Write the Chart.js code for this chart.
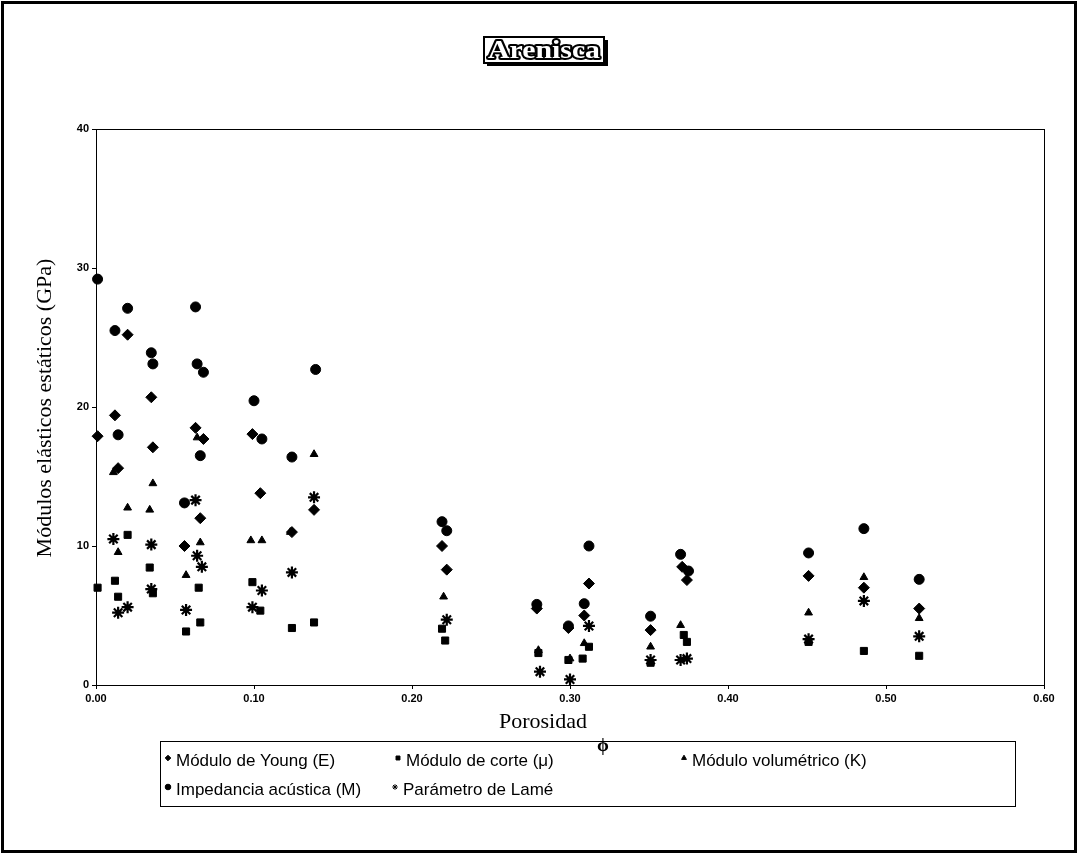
<!DOCTYPE html>
<html>
<head>
<meta charset="utf-8">
<script src="https://cdn.jsdelivr.net/npm/chart.js@4.4.1/dist/chart.umd.min.js"></script>
<style>
html,body{margin:0;padding:0;background:#fff;}
#wrap{width:1078px;height:854px;position:relative;}
</style>
</head>
<body>
<div id="wrap"><canvas id="c" width="1078" height="854"></canvas></div>
<script>
// ---- Data (porosity, GPa) ----
const seriesLabels = ["Módulo de Young (E)", "Módulo de corte (μ)", "Módulo volumétrico (K)", "Impedancia acústica (M)", "Parámetro de Lamé"];
const xTickLabels = ["0.00","0.10","0.20","0.30","0.40","0.50","0.60"];
const yTickLabels = ["0","10","20","30","40"];

const youngE = [[0.001,17.9],[0.012,19.4],[0.014,15.6],[0.020,25.2],[0.035,20.7],[0.036,17.1],[0.056,10.0],[0.063,18.5],[0.068,17.7],[0.066,12.0],[0.099,18.05],[0.104,13.8],[0.124,11.0],[0.138,12.6],[0.219,10.0],[0.222,8.3],[0.279,5.5],[0.299,4.1],[0.312,7.3],[0.309,5.0],[0.351,3.95],[0.371,8.5],[0.374,7.55],[0.451,7.85],[0.486,7.0],[0.521,5.5]];
const shearMu = [[0.001,7.0],[0.012,7.5],[0.014,6.35],[0.020,10.8],[0.034,8.45],[0.036,6.6],[0.057,3.85],[0.065,7.0],[0.066,4.5],[0.099,7.4],[0.104,5.35],[0.124,4.1],[0.138,4.5],[0.219,4.05],[0.221,3.2],[0.280,2.3],[0.299,1.8],[0.312,2.75],[0.308,1.9],[0.351,1.6],[0.372,3.6],[0.374,3.1],[0.451,3.1],[0.486,2.45],[0.521,2.1]];
const bulkK = [[0.011,15.3],[0.014,9.55],[0.020,12.75],[0.034,12.6],[0.036,14.5],[0.057,7.9],[0.064,17.8],[0.066,10.25],[0.098,10.4],[0.105,10.4],[0.123,11.0],[0.138,16.6],[0.220,6.35],[0.280,2.5],[0.300,1.9],[0.309,3.0],[0.351,2.75],[0.370,4.3],[0.451,5.2],[0.486,7.75],[0.521,4.8]];
const impedanceM = [[0.001,29.2],[0.012,25.5],[0.020,27.1],[0.035,23.9],[0.036,23.1],[0.014,18.0],[0.056,13.1],[0.063,27.2],[0.064,23.1],[0.068,22.5],[0.066,16.5],[0.100,20.45],[0.105,17.7],[0.124,16.4],[0.139,22.7],[0.219,11.75],[0.222,11.1],[0.279,5.8],[0.299,4.25],[0.312,10.0],[0.309,5.85],[0.351,4.95],[0.370,9.4],[0.375,8.2],[0.451,9.5],[0.486,11.25],[0.521,7.6]];
const lameLambda = [[0.011,10.5],[0.014,5.2],[0.020,5.6],[0.035,10.1],[0.035,6.9],[0.057,5.4],[0.063,13.3],[0.064,9.3],[0.067,8.5],[0.099,5.6],[0.105,6.8],[0.124,8.1],[0.138,13.5],[0.222,4.7],[0.281,0.96],[0.300,0.4],[0.312,4.25],[0.351,1.8],[0.370,1.8],[0.374,1.9],[0.451,3.3],[0.486,6.05],[0.521,3.5]];

const toPts = arr => arr.map(p => ({x:p[0], y:p[1]}));

const styles = [
  {pointStyle:'rectRot', r:5.5},
  {pointStyle:'rect', r:5},
  {pointStyle:'triangle', r:4.5},
  {pointStyle:'circle', r:5},
  {pointStyle:'star', r:6}
];
const seriesData = [youngE, shearMu, bulkK, impedanceM, lameLambda];

const datasets = seriesData.map((d,i) => ({
  label: seriesLabels[i],
  data: toPts(d),
  pointStyle: styles[i].pointStyle,
  pointRadius: styles[i].r,
  pointHoverRadius: styles[i].r,
  backgroundColor:'#000',
  borderColor:'#000',
  borderWidth: i===4 ? 2.2 : 1,
  showLine:false,
  clip:false
}));

// Legend slot positions (layout only)
const legendSlots = [
  {x:168, y:761}, {x:398, y:761}, {x:684, y:761},
  {x:168, y:790}, {x:395, y:790}
];

const decor = {
  id:'decor',
  afterDraw(chart){
    const ctx = chart.ctx, a = chart.chartArea;
    ctx.save();
    ctx.strokeStyle = '#000';
    // outer frame
    ctx.lineWidth = 3;
    ctx.strokeRect(2.5, 2.5, 1073, 849);
    // plot frame
    ctx.lineWidth = 1;
    ctx.strokeRect(Math.round(a.left)+0.5, Math.round(a.top)+0.5, Math.round(a.right-a.left), Math.round(a.bottom-a.top));

    // Title box
    ctx.fillStyle = '#000';
    ctx.fillRect(487, 40, 121, 26);      // shadow
    ctx.fillStyle = '#fff';
    ctx.fillRect(484, 37, 120, 26);
    ctx.lineWidth = 2;
    ctx.strokeRect(484, 37, 120, 26);
    ctx.font = 'bold 26px "Liberation Serif"';
    ctx.textAlign = 'left'; ctx.textBaseline = 'middle';
    const t = 'Arenisca';
    const w = ctx.measureText(t).width;
    ctx.save();
    ctx.translate(488, 51);
    ctx.scale(112 / w, 1);
    ctx.lineJoin = 'round';
    ctx.lineWidth = 4;
    ctx.strokeStyle = '#000';
    ctx.strokeText(t, 0, 0);
    ctx.fillStyle = '#fff';
    ctx.fillText(t, 0, 0);
    ctx.restore();

    // Axis titles
    ctx.fillStyle = '#000';
    ctx.font = '22px "Liberation Serif"';
    ctx.textAlign = 'center'; ctx.textBaseline = 'middle';
    ctx.save();
    ctx.translate(45, 408);
    ctx.rotate(-Math.PI/2);
    ctx.fillText('Módulos elásticos estáticos (GPa)', 0, 0);
    ctx.restore();
    ctx.fillText('Porosidad', 543, 722);
    ctx.font = 'bold 19px "Liberation Serif"';
    ctx.fillText('ϕ', 603, 746);

    // Legend box
    ctx.lineWidth = 1;
    ctx.strokeStyle = '#000';
    ctx.strokeRect(160.5, 741.5, 855, 65);
    ctx.font = '17px "Liberation Sans"';
    ctx.textAlign = 'left'; ctx.textBaseline = 'middle';
    chart.data.datasets.forEach((ds, i) => {
      const s = legendSlots[i];
      ctx.fillStyle = '#000'; ctx.strokeStyle = '#000';
      Chart.helpers.drawPoint(ctx, {pointStyle: ds.pointStyle, radius: 2.8, borderWidth: ds.pointStyle==='star'?1.5:1}, s.x, s.y - 3);
      ctx.fillStyle = '#000';
      ctx.fillText(ds.label, s.x + 8, s.y);
    });
    ctx.restore();
  }
};

const tickFont = {family:'"Liberation Sans"', size:11, weight:'bold'};

new Chart(document.getElementById('c'), {
  type:'scatter',
  data:{datasets},
  options:{
    responsive:false,
    animation:false,
    devicePixelRatio:1,
    layout:{padding:{left:0, right:34, top:129, bottom:139}},
    plugins:{legend:{display:false}, tooltip:{enabled:false}, title:{display:false}},
    scales:{
      x:{
        type:'linear', min:0, max:0.6,
        afterFit: s => { s.height = 30; },
        afterBuildTicks: s => { s.ticks = xTickLabels.map(v => ({value: parseFloat(v)})); },
        ticks:{color:'#000', font:tickFont, padding:3, maxRotation:0,
          callback:(v, i) => xTickLabels[i]},
        grid:{display:true, drawOnChartArea:false, drawTicks:true, tickLength:4, color:'#000'},
        border:{display:true, color:'#000', width:1}
      },
      y:{
        type:'linear', min:0, max:40,
        afterFit: s => { s.width = 96; },
        afterBuildTicks: s => { s.ticks = yTickLabels.map(v => ({value: parseFloat(v)})); },
        ticks:{color:'#000', font:tickFont, padding:3,
          callback:(v, i) => yTickLabels[i]},
        grid:{display:true, drawOnChartArea:false, drawTicks:true, tickLength:4, color:'#000'},
        border:{display:true, color:'#000', width:1}
      }
    }
  },
  plugins:[decor]
});
</script>
</body>
</html>
